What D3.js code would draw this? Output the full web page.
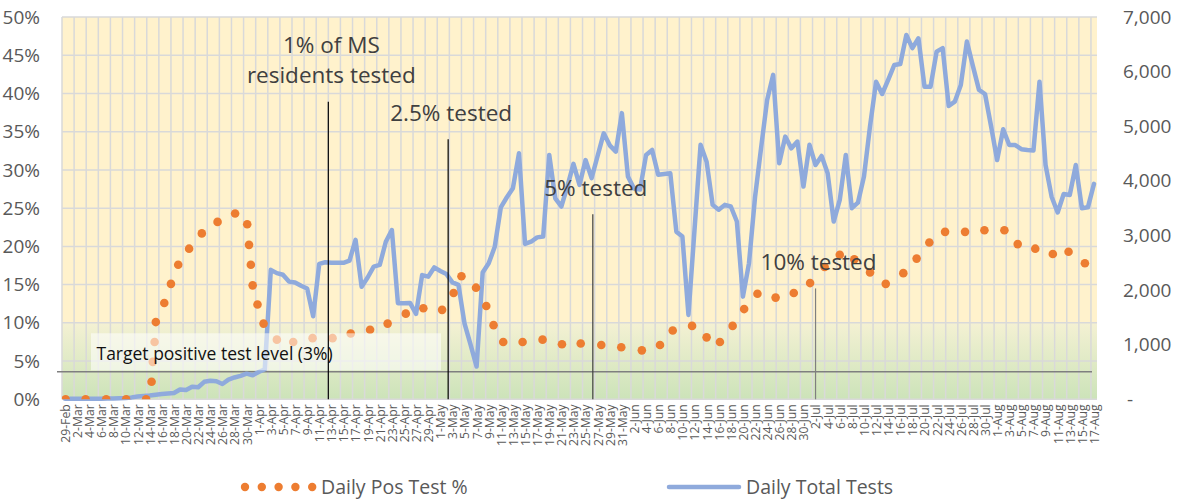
<!DOCTYPE html>
<html>
<head>
<meta charset="utf-8">
<script src="https://cdn.jsdelivr.net/npm/d3@7"></script>
<style>
  body { margin: 0; background: #fff; }
  svg text { font-family: "Open Sans", sans-serif; }
</style>
</head>
<body>
<div id="chart"></div>
<script>
// ---- data ----
var startDate = new Date(2020, 1, 29);   // first category: 29-Feb

// Daily Total Tests, one value per day from 29-Feb to 17-Aug
var dailyTotalTests = [
  10, 10, 10, 10, 10, 10, 10, 15, 15, 20,
  25, 35, 50, 60, 70, 85, 95, 105, 115, 180,
  170, 230, 220, 320, 340, 330, 280, 360, 400, 430,
  470, 440, 500, 550, 2370, 2310, 2280, 2155, 2140, 2080,
  2030, 1520, 2480, 2510, 2500, 2500, 2500, 2540, 2920, 2060,
  2230, 2430, 2460, 2885, 3100, 1760, 1760, 1765, 1565, 2275,
  2245, 2415, 2350, 2295, 2140, 2095, 1390, 1000, 600, 2320,
  2490, 2795, 3515, 3700, 3865, 4505, 2845, 2885, 2965, 2980,
  4475, 3680, 3530, 3900, 4310, 3925, 4380, 4050, 4460, 4870,
  4650, 4535, 5240, 4080, 3860, 3840, 4475, 4565, 4110, 4125,
  4140, 3070, 2980, 1545, 3100, 4660, 4350, 3560, 3470, 3560,
  3530, 3255, 1880, 2490, 3700, 4600, 5480, 5940, 4320, 4810,
  4595, 4720, 3895, 4660, 4290, 4455, 4140, 3255, 3650, 4475,
  3500, 3600, 4080, 5000, 5815, 5590, 5850, 6120, 6140, 6670,
  6430, 6610, 5725, 5725, 6365, 6430, 5370, 5450, 5755, 6550,
  6100, 5665, 5590, 5000, 4380, 4945, 4655, 4655, 4580, 4565,
  4555, 5815, 4290, 3710, 3420, 3760, 3740, 4290, 3500, 3515,
  3945
];

// Daily Pos Test % (round-dot line): day offset from 29-Feb and percent
var posDay = [
  0.1, 3.4, 6.8, 10.1, 13.4, 14.3, 14.5, 14.8, 15.0, 16.4,
  17.5, 18.7, 20.5, 22.6, 25.2, 28.1, 30.1, 30.4, 30.7, 31.0,
  31.8, 32.8, 35.0, 37.7, 40.9, 44.2, 47.2, 50.4, 53.3, 56.3,
  59.2, 62.3, 64.2, 65.5, 67.9, 69.6, 70.8, 72.4, 75.6, 78.9,
  82.1, 85.2, 88.6, 91.9, 95.3, 98.3, 100.4, 103.6, 106.0, 108.2,
  110.3, 112.2, 114.4, 117.4, 120.4, 123.1, 125.5, 128.0, 130.4, 133.0,
  135.6, 138.5, 140.7, 142.8, 145.4, 148.7, 151.9, 155.2, 157.4, 160.3,
  163.2, 165.8, 168.5
];
var posPct = [
  0, 0, 0, 0, 0, 2.3, 4.9, 7.5, 10.1, 12.6,
  15.1, 17.6, 19.7, 21.7, 23.2, 24.3, 22.9, 20.2, 17.6, 14.9,
  12.4, 9.9, 7.8, 7.5, 8.0, 8.0, 8.6, 9.1, 9.9, 11.2,
  11.9, 11.7, 13.9, 16.1, 14.6, 12.2, 9.7, 7.5, 7.5, 7.8,
  7.2, 7.3, 7.1, 6.8, 6.4, 7.1, 9.0, 9.6, 8.1, 7.5,
  9.6, 11.8, 13.8, 13.3, 13.9, 15.2, 17.3, 18.9, 18.3, 16.6,
  15.1, 16.5, 18.4, 20.5, 21.9, 21.9, 22.1, 22.1, 20.3, 19.7,
  19.0, 19.3, 17.8
];

var pctTicks = [0, 5, 10, 15, 20, 25, 30, 35, 40, 45, 50];
var testTicks = [0, 1000, 2000, 3000, 4000, 5000, 6000, 7000];

var targetLevel = 3.6;     // target line as drawn
var targetLabel = "Target positive test level (3%)";
var greenBandTop = 10;

// milestone markers: day offset, top of the marker line (in %), label lines
var milestoneDay = [43.5, 63.3, 87.2, 124.0];
var milestoneTop = [38.9, 34.0, 24.2, 14.5];
var milestoneText = [["1% of MS", "residents tested"], ["2.5% tested"], ["5% tested"], ["10% tested"]];

var legendLabels = ["Daily Pos Test %", "Daily Total Tests"];

// ---- layout ----
var width = 1191, height = 499;
var plotLeft = 62, plotTop = 17, plotW = 1097 - 62, plotH = 399.3 - 17;
var orange = "#ed7d31", blue = "#8faadc", axisGrey = "#595959";
var milestoneColor = ["#000000", "#000000", "#404040", "#7f7f7f"];

var svg = d3.select("#chart")
  .append("svg")
    .attr("width", width)
    .attr("height", height);

var g = svg.append("g")
    .attr("transform", "translate(" + plotLeft + "," + plotTop + ")");

var n = dailyTotalTests.length;
var x = d3.scaleLinear().domain([-0.5, n - 0.5]).range([0, plotW]);
var yPct = d3.scaleLinear().domain([0, 50]).range([plotH, 0]);
var yTests = d3.scaleLinear().domain([0, 7000]).range([plotH, 0]);

var defs = svg.append("defs");
var grad = defs.append("linearGradient")
    .attr("id", "greenBand")
    .attr("x1", 0).attr("y1", 1).attr("x2", 0).attr("y2", 0);
grad.append("stop").attr("offset", 0).attr("stop-color", "#cce3b9");
grad.append("stop").attr("offset", 1).attr("stop-color", "#f4f1d3");
defs.append("clipPath").attr("id", "plotClip")
  .append("rect").attr("width", plotW).attr("height", plotH);

// background
g.append("rect")
    .attr("width", plotW)
    .attr("height", plotH)
    .attr("fill", "#fff2cc");
g.append("rect")
    .attr("y", yPct(greenBandTop))
    .attr("width", plotW)
    .attr("height", plotH - yPct(greenBandTop))
    .attr("fill", "url(#greenBand)");

// gridlines
var vGrid = d3.range(0, n + 1, 2).map(function(k) { return k - 0.5; });
g.append("g").selectAll("line")
  .data(vGrid)
  .join("line")
    .attr("x1", function(d) { return x(d); })
    .attr("x2", function(d) { return x(d); })
    .attr("y1", 0)
    .attr("y2", plotH)
    .attr("stroke", "#d9d9d9")
    .attr("stroke-width", 1.5);
g.append("g").selectAll("line")
  .data(pctTicks)
  .join("line")
    .attr("x1", 0)
    .attr("x2", plotW)
    .attr("y1", function(d) { return yPct(d); })
    .attr("y2", function(d) { return yPct(d); })
    .attr("stroke", "#d9d9d9")
    .attr("stroke-width", 1.5);

// target line
g.append("line")
    .attr("x1", -5)
    .attr("x2", plotW - 5)
    .attr("y1", yPct(targetLevel))
    .attr("y2", yPct(targetLevel))
    .attr("stroke", "#7f7f7f")
    .attr("stroke-width", 1.5);

// Daily Total Tests
var line = d3.line()
    .x(function(d, i) { return x(i); })
    .y(function(d) { return yTests(d); });
g.append("path")
    .datum(dailyTotalTests)
    .attr("d", line)
    .attr("fill", "none")
    .attr("stroke", blue)
    .attr("stroke-width", 4.5)
    .attr("stroke-linejoin", "round")
    .attr("stroke-linecap", "round");

// Daily Pos Test %
g.append("g")
    .attr("clip-path", "url(#plotClip)")
  .selectAll("circle")
  .data(posDay)
  .join("circle")
    .attr("cx", function(d) { return x(d); })
    .attr("cy", function(d, i) { return yPct(posPct[i]); })
    .attr("r", 4.3)
    .attr("fill", orange);

// target label box
var ty = yPct(targetLevel);
g.append("rect")
    .attr("x", 29)
    .attr("y", ty - 38.5)
    .attr("width", 350)
    .attr("height", 37)
    .attr("fill", "#ffffff")
    .attr("fill-opacity", 0.55);
g.append("text")
    .attr("x", 34.5)
    .attr("y", ty - 11.5)
    .attr("font-size", 17.5)
    .attr("fill", "#111")
    .text(targetLabel);

// milestones
milestoneDay.forEach(function(d, i) {
  var mx = x(d), top = yPct(milestoneTop[i]);
  g.append("line")
      .attr("x1", mx).attr("x2", mx)
      .attr("y1", top).attr("y2", plotH)
      .attr("stroke", milestoneColor[i])
      .attr("stroke-width", 1.2);
  var lines = milestoneText[i];
  lines.forEach(function(t, j) {
    g.append("text")
        .attr("x", mx + 3)
        .attr("y", top - 18.5 - (lines.length - 1 - j) * 30.5)
        .attr("text-anchor", "middle")
        .attr("font-size", 22.5)
        .attr("fill", "#404040")
        .text(t);
  });
});

// axes
var fmtDate = d3.timeFormat("%-d-%b");
var xAxis = g.append("g")
    .attr("transform", "translate(0," + plotH + ")")
    .call(d3.axisBottom(x)
      .tickValues(d3.range(0, n, 2))
      .tickFormat(function(i) { return fmtDate(d3.timeDay.offset(startDate, i)); })
      .tickSize(0));
xAxis.select(".domain").remove();
xAxis.selectAll("text")
    .attr("transform", "rotate(-90)")
    .attr("x", -5)
    .attr("y", 0)
    .attr("dy", "0.36em")
    .style("text-anchor", "end")
    .attr("font-family", "Open Sans")
    .attr("font-size", 12.2)
    .attr("fill", axisGrey);

var yAxisL = g.append("g")
    .call(d3.axisLeft(yPct)
      .tickValues(pctTicks)
      .tickFormat(function(d) { return d + "%"; })
      .tickSize(0)
      .tickPadding(22));
yAxisL.select(".domain").remove();
yAxisL.selectAll("text")
    .attr("font-family", "Open Sans")
    .attr("font-size", 19)
    .attr("fill", axisGrey);

var yAxisR = g.append("g")
    .attr("transform", "translate(" + plotW + ",0)")
    .call(d3.axisRight(yTests)
      .tickValues(testTicks)
      .tickFormat(function(d) { return d === 0 ? "-" : d3.format(",")(d); })
      .tickSize(0)
      .tickPadding(26));
yAxisR.select(".domain").remove();
yAxisR.selectAll("text")
    .attr("font-family", "Open Sans")
    .attr("font-size", 19)
    .attr("fill", axisGrey)
    .attr("dx", function(d) { return d === 0 ? 4 : 0; });

// legend
var legend = svg.append("g").attr("transform", "translate(0,487)");
legend.selectAll("circle")
  .data(d3.range(5))
  .join("circle")
    .attr("cx", function(d) { return 245 + d * 16.8; })
    .attr("cy", 0)
    .attr("r", 4.2)
    .attr("fill", orange);
legend.append("text")
    .attr("x", 321)
    .attr("y", 6.5)
    .attr("font-size", 19.5)
    .attr("fill", axisGrey)
    .text(legendLabels[0]);
legend.append("line")
    .attr("x1", 669).attr("x2", 739)
    .attr("y1", 0).attr("y2", 0)
    .attr("stroke", blue)
    .attr("stroke-width", 4.5)
    .attr("stroke-linecap", "round");
legend.append("text")
    .attr("x", 746)
    .attr("y", 6.5)
    .attr("font-size", 19.5)
    .attr("fill", axisGrey)
    .text(legendLabels[1]);
</script>
</body>
</html>
